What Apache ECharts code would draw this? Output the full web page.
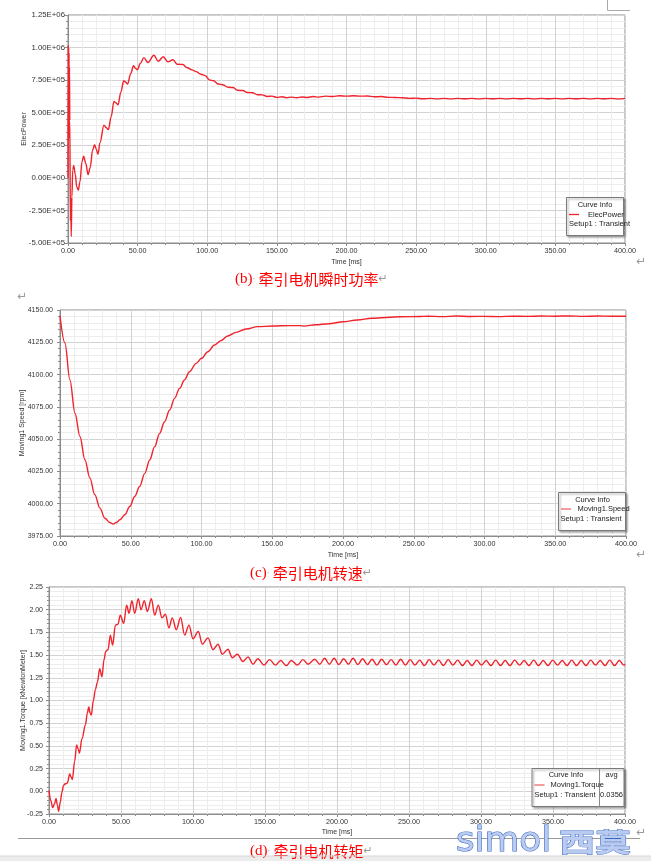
<!DOCTYPE html>
<html><head><meta charset="utf-8">
<script src="https://cdn.jsdelivr.net/npm/echarts@6/dist/echarts.min.js"></script>
<style>html,body{margin:0;padding:0;background:#fff;}#c{width:651px;height:861px;}</style>
</head><body><div id="c"></div>
<script>
// ---- data (time in ms) ----
const powerData = [
[0,0],[0.15,1.02e6],[0.3,4.0e5],[0.45,1.0e6],[0.6,3.0e5],[0.75,9.6e5],[0.9,5.0e5],[1.05,8.5e5],[1.3,4.4e5],[1.7,-3.3e5],[2.0,-1.5e5],[2.3,-4.5e5],[2.8,-1.5e5],[3.4,6e4],[4.1,9.5e4],[5.2,3e4],[6.3,-7e4],[7.4,-9.5e4],[8.6,-3e4],[10,1.2e5],[11.2,1.66e5],[12.8,1.1e5],[14.4,2.5e4],[16,8e4],[17.6,2.1e5],[19.1,2.55e5],[20.3,2.2e5],[21.5,1.8e5],[23,2.7e5],[25.8,4.05e5],[27.5,3.85e5],[29,3.7e5],[31,4.7e5],[33,5.87e5],[34.5,5.75e5],[35.9,5.6e5],[38,6.6e5],[40,7.45e5],[41.5,7.35e5],[42.8,7.2e5],[45,8.0e5],[47.1,8.6e5],[48.5,8.4e5],[49.8,8.3e5],[52,8.8e5],[54.5,9.23e5],[57.4,8.85e5],[61.7,9.41e5],[64.8,8.95e5],[68.4,9.3e5],[71.8,8.9e5],[75.4,9.06e5],[78.5,8.72e5],[82.5,8.7e5],[85.2,8.47e5],[89,8.29e5],[92,8.15e5],[95.5,7.95e5],[98.5,7.85e5],[101.5,7.52e5],[104.5,7.45e5],[108,7.2e5],[111,7.15e5],[115,6.95e5],[118.5,6.93e5],[122,6.72e5],[125.5,6.7e5],[129,6.55e5],[132.5,6.53e5],[136,6.38e5],[139.5,6.37e5],[143,6.25e5],[146.5,6.27e5],[150,6.18e5],[153.5,6.22e5],[157,6.15e5],[160.5,6.2e5],[164,6.15e5],[168,6.21e5],[172,6.17e5],[176,6.24e5],[180,6.2e5],[185,6.27e5],[190,6.24e5],[195,6.3e5],[200,6.27e5],[205,6.3e5],[210,6.27e5],[215,6.28e5],[220,6.22e5],[225,6.24e5],[230,6.18e5],[235,6.17e5],[240,6.15e5],[245,6.1e5],[250,6.12e5],[255,6.07e5],[260,6.1e5],[265,6.06e5],[270,6.1e5],[275,6.06e5],[280,6.1e5],[285,6.07e5],[290,6.1e5],[295,6.06e5],[300,6.1e5],[305,6.07e5],[310,6.1e5],[315,6.06e5],[320,6.1e5],[325,6.07e5],[330,6.1e5],[335,6.06e5],[340,6.1e5],[345,6.07e5],[350,6.1e5],[355,6.06e5],[360,6.1e5],[365,6.07e5],[370,6.1e5],[375,6.06e5],[380,6.1e5],[385,6.07e5],[390,6.1e5],[395,6.06e5],[400,6.1e5]
];
const speedData = [
[0,4145.4],[3.5,4124.4],[7,4095.8],[10.6,4070],[14.1,4052],[17.6,4034],[21.1,4020],[24.6,4007],[28.2,3996.6],[31.7,3988.8],[35.2,3985.5],[37.6,3984.2],[39.9,3985.5],[42.3,3987.6],[45.8,3991.4],[49.3,3997.8],[52.8,4005.6],[56.3,4013.3],[59.9,4023.5],[63.4,4033.9],[66.9,4044.2],[70.4,4054.5],[73.9,4063.5],[77.5,4072.6],[81,4081.6],[84.5,4089.3],[88,4095.8],[91.5,4102.2],[96.2,4108.7],[100,4112.6],[104.5,4117.7],[109.2,4122.9],[113.8,4126.3],[118.5,4129.9],[124.4,4132.7],[131.5,4135.3],[139.7,4137.1],[150.2,4137.6],[162,4137.9],[170,4137.9],[172.5,4137.5],[180.7,4138.6],[190,4139.4],[200.2,4140.9],[210,4142.3],[220.3,4143.6],[240.3,4144.8],[254.4,4145.0],[260,4145.2],[270,4144.9],[280,4145.3],[290,4145.0],[300,4145.1],[310,4144.9],[320,4145.2],[330,4145.1],[340,4145.3],[350,4145.2],[360,4145.4],[370,4145.1],[380,4145.3],[390,4145.2],[400,4145.2]
];
const torqueData = [
[0,0.01],[1.2,-0.1],[2.6,-0.18],[3.8,-0.14],[4.9,-0.08],[5.8,-0.15],[6.7,-0.22],[7.8,-0.12],[9,-0.01],[10,0.06],[10.9,0.08],[12.7,0.09],[14.4,0.19],[15.3,0.16],[16.2,0.13],[17.8,0.33],[19.2,0.51],[20.2,0.47],[21.1,0.42],[22.9,0.58],[25.3,0.73],[26.6,0.86],[27.6,0.93],[28.6,0.86],[29.4,0.84],[30.8,1.0],[32.2,1.12],[33.6,1.2],[35.2,1.35],[36.8,1.26],[38.2,1.45],[39.4,1.54],[41,1.56],[42.6,1.72],[44.2,1.61],[46.1,1.83],[47.9,1.84],[49.5,1.94],[51.9,1.85],[53.9,2.05],[55.6,1.96],[57.6,2.10],[59.5,1.96],[62,2.12],[63.9,2.0],[66.2,2.10],[68.3,1.98],[71.1,2.12],[73.4,1.94],[75.9,2.05],[78.5,1.91],[80.8,1.95],[83.3,1.80],[85.6,1.91],[88.4,1.78],[91.4,1.915],[94.2,1.72],[97.2,1.83],[100,1.68],[103.7,1.76],[106.5,1.62],[110.4,1.69],[113.9,1.56],[117.4,1.62],[120.4,1.51],[124.3,1.565],[127.3,1.47],[130.8,1.51],[134.7,1.43],[138.2,1.48],[141.7,1.40],[145.1,1.46],[149.3,1.39],[153.2,1.45],[157.2,1.39],[160.9,1.44],[164.8,1.385],[168.3,1.44],[172.5,1.39],[176.4,1.45],[179.9,1.40],[184.5,1.455],[188,1.40],
[191.4,1.465],[194.7,1.40],[198.0,1.465],[201.3,1.395],[204.6,1.46],[207.9,1.40],[211.2,1.465],[214.5,1.395],[217.8,1.46],[221.1,1.395],[224.4,1.455],[227.7,1.39],[231.0,1.455],[234.3,1.395],[237.6,1.45],[240.9,1.39],[244.2,1.455],[247.5,1.39],[250.8,1.45],[254.1,1.39],[257.4,1.445],[260.7,1.385],[264.0,1.45],[267.3,1.39],[270.6,1.445],[273.9,1.385],[277.2,1.45],[280.5,1.39],[283.8,1.445],[287.1,1.385],[290.4,1.44],[293.7,1.385],[297.0,1.445],[300.3,1.39],[303.6,1.44],[306.9,1.385],[310.2,1.445],[313.5,1.385],[316.8,1.44],[320.1,1.385],[323.4,1.445],[326.7,1.39],[330.0,1.44],[333.3,1.385],[336.6,1.445],[339.9,1.385],[343.2,1.44],[346.5,1.385],[349.8,1.445],[353.1,1.39],[356.4,1.44],[359.7,1.385],[363.0,1.445],[366.3,1.385],[369.6,1.44],[372.9,1.385],[376.2,1.445],[379.5,1.39],[382.8,1.44],[386.1,1.385],[389.4,1.445],[392.7,1.385],[396.0,1.44],[399.3,1.39],[400,1.40]
];
const timeRange = [0, 400, 50];
const powerRange = [-5e5, 1.25e6, 2.5e5];
const speedRange = [3975, 4150, 25];
const torqueRange = [-0.25, 2.25, 0.25];
const seriesNames = ['ElecPower', 'Moving1.Speed', 'Moving1.Torque'];
const yNames = ['ElecPower', 'Moving1 Speed [rpm]', 'Moving1.Torque [kNewtonMeter]'];
const captions = [['(b)', '牵引电机瞬时功率'], ['(c)', '牵引电机转速'], ['(d)', '牵引电机转矩']];
const avgValue = '0.0356';

// ---- chart ----
const RED = '#f0222c';
const FONT = 'Liberation Sans, Arial, sans-serif';
const AX = '#8c8c8c';
const grids = [
  {left: 68, top: 15, width: 557, height: 228},
  {left: 60, top: 310, width: 566, height: 226},
  {left: 49, top: 587, width: 576, height: 227}
];
function xAx(gi, gap) {
  return {
    type: 'value', gridIndex: gi, min: timeRange[0], max: timeRange[1], interval: timeRange[2],
    name: 'Time [ms]', nameLocation: 'middle', nameGap: gap, nameMoveOverlap: false,
    nameTextStyle: {fontSize: 7, color: '#333', fontFamily: FONT},
    axisLine: {show: true, onZero: false, lineStyle: {color: AX}},
    axisTick: {show: true, length: 3, lineStyle: {color: AX}},
    minorTick: {show: true, splitNumber: 5, length: 2, lineStyle: {color: AX}},
    axisLabel: {fontSize: 7.2, color: '#333', fontFamily: FONT, margin: 5, formatter: v => v.toFixed(2)},
    splitLine: {show: true, lineStyle: {color: '#d2d2d2', width: 1}},
    minorSplitLine: {show: true, lineStyle: {color: '#ededed', width: 1}}
  };
}
function yAx(gi, r, name, gap, margin, fs, fmt) {
  return {
    type: 'value', gridIndex: gi, min: r[0], max: r[1], interval: r[2],
    name: name, nameLocation: 'middle', nameGap: gap, nameRotate: 90, nameMoveOverlap: false,
    nameTextStyle: {fontSize: 7, color: '#333', fontFamily: FONT},
    axisLine: {show: true, onZero: false, lineStyle: {color: AX}},
    axisTick: {show: true, length: 3, lineStyle: {color: AX}},
    minorTick: {show: true, splitNumber: 5, length: 2, lineStyle: {color: AX}},
    axisLabel: {fontSize: fs, color: '#333', fontFamily: FONT, margin: margin, formatter: fmt},
    splitLine: {show: true, lineStyle: {color: '#d2d2d2', width: 1}},
    minorSplitLine: {show: true, lineStyle: {color: '#ededed', width: 1}}
  };
}
function fmtE(v) {
  const s = v.toExponential(2);
  const parts = s.split('e');
  const sign = parts[1][0];
  const n = parts[1].slice(1).padStart(2, '0');
  return parts[0] + 'E' + sign + n;
}
function line(i, data) {
  return {
    type: 'line', xAxisIndex: i, yAxisIndex: i, data: data, name: seriesNames[i],
    showSymbol: false, smooth: 0.35, smoothMonotone: 'x',
    lineStyle: {color: RED, width: 1.4}, silent: true, animation: false
  };
}
function caption(x, y, c) {
  return {
    type: 'text', x: x, y: y, z: 100,
    style: {
      text: '{a|' + c[0] + '}{d|·}{c| ' + c[1] + '}{e|↵}',
      verticalAlign: 'middle',
      rich: {
        a: {fontFamily: 'Liberation Serif, serif', fontSize: 15, fill: '#ff0000'},
        d: {fontFamily: FONT, fontSize: 8, fill: '#888'},
        c: {fontFamily: 'Noto Sans CJK SC', fontSize: 15, fill: '#ff0000'},
        e: {fontFamily: 'DejaVu Sans', fontSize: 11, fill: '#999'}
      }
    }
  };
}
function pmark(x, y) {
  return {type: 'text', x: x, y: y, z: 100, style: {text: '↵', fontFamily: 'DejaVu Sans', fontSize: 12, fill: '#9a9a9a', verticalAlign: 'middle'}};
}
const TS = {fontFamily: FONT, fontSize: 7.5, fill: '#222'};
function legendBox(x, y, w, h) {
  return {type: 'rect', z: 100, shape: {x: x, y: y, width: w, height: h},
    style: {fill: '#fff', stroke: '#7a7a7a', lineWidth: 1, shadowBlur: 2, shadowOffsetX: 1.5, shadowOffsetY: 1.5, shadowColor: 'rgba(0,0,0,0.35)'}};
}
function t(x, y, s, align) {
  return {type: 'text', x: x, y: y, z: 101, style: Object.assign({text: s, align: align || 'left', verticalAlign: 'middle'}, TS)};
}
function seg(x1, y1, x2, y2, color, w) {
  return {type: 'line', z: 101, shape: {x1: x1, y1: y1, x2: x2, y2: y2}, style: {stroke: color, lineWidth: w || 1}};
}

const graphic = [
  // page marks
  {type: 'polyline', z: 100, shape: {points: [[607.5, 0], [607.5, 10.5], [630, 10.5]]}, style: {stroke: '#aaa', lineWidth: 1, fill: null}},
  pmark(636, 262), pmark(17, 297), pmark(636, 555), pmark(636, 833),
  caption(235, 279, captions[0]),
  caption(250, 573, captions[1]),
  caption(250, 851, captions[2]),
  // legend 1
  legendBox(566.5, 197.5, 57, 38),
  t(595, 204.5, 'Curve Info', 'center'),
  seg(569, 214.5, 579, 214.5, RED, 1.3),
  t(588, 214.5, seriesNames[0]),
  t(569, 223.5, 'Setup1 : Transient'),
  // legend 2
  legendBox(558.5, 492.5, 67, 38),
  t(592.5, 499.5, 'Curve Info', 'center'),
  seg(561, 509, 571, 509, '#f07a7a', 1.5),
  t(577.5, 509, seriesNames[1]),
  t(560.5, 518.5, 'Setup1 : Transient'),
  // legend 3
  legendBox(532, 768.5, 92, 38),
  seg(599.5, 768.5, 599.5, 806.5, '#8a8a8a', 1),
  t(566, 775, 'Curve Info', 'center'),
  t(611.5, 775, 'avg', 'center'),
  seg(534.5, 785, 544.5, 785, '#f07a7a', 1.5),
  t(550.5, 785, seriesNames[2]),
  t(534.5, 794.5, 'Setup1 : Transient'),
  t(611.5, 794.5, avgValue, 'center'),
  // bottom line & strip
  seg(18, 838.5, 640, 838.5, '#9a9a9a', 1),
  {type: 'rect', z: 99, shape: {x: 0, y: 856, width: 651, height: 5}, style: {fill: '#ececec', stroke: null}},
  seg(0, 856, 651, 856, '#d6d6d6', 1),
  // watermark logo
  {type: 'text', x: 456, y: 842, z: 102, scaleX: 1.05, style: {text: 'simol', fontFamily: 'DejaVu Sans', fontSize: 34, fill: '#b9cbef', stroke: '#3b67c6', lineWidth: 1.1, verticalAlign: 'middle'}},
  {type: 'text', x: 559, y: 842, z: 102, scaleY: 0.72, style: {text: '西莫', fontFamily: 'Noto Sans CJK SC', fontSize: 36, fontWeight: 'bold', fill: '#b9cbef', stroke: '#3b67c6', lineWidth: 1.1, verticalAlign: 'middle'}}
];

const chart = echarts.init(document.getElementById('c'), null, {renderer: 'canvas'});
chart.setOption({
  backgroundColor: '#fff',
  animation: false,
  grid: grids.map(g => Object.assign({show: true, borderColor: '#8c8c8c', borderWidth: 1, backgroundColor: '#fff'}, g)),
  xAxis: [xAx(0, 16), xAx(1, 15.5), xAx(2, 14.5)],
  yAxis: [
    yAx(0, powerRange, yNames[0], 40, 3, 7.8, fmtE),
    yAx(1, speedRange, yNames[1], 34, 7, 7, v => v.toFixed(2)),
    yAx(2, torqueRange, yNames[2], 22, 6, 7, v => v.toFixed(2))
  ],
  series: [line(0, powerData), line(1, speedData), line(2, torqueData)],
  graphic: graphic
});
</script></body></html>
